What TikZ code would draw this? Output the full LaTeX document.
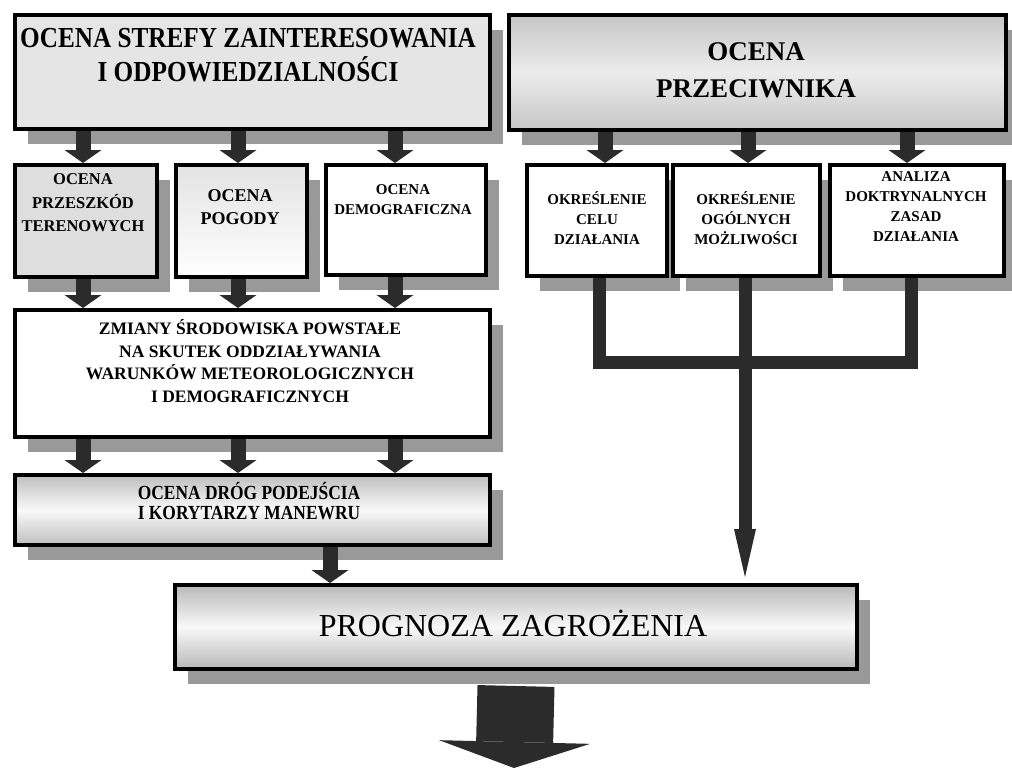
\documentclass[tikz,border=0pt]{standalone}
\usepackage{fontspec}
\setmainfont{Liberation Serif}
\newfontfamily\cnd[FakeStretch=0.87]{Liberation Serif}
\usetikzlibrary{arrows.meta,shadows,calc}
\definecolor{shd}{gray}{0.60}
\definecolor{arr}{gray}{0.17}
\definecolor{lgA}{gray}{0.90}
\definecolor{lg1}{gray}{0.87}
\definecolor{lg2}{gray}{0.89}
\begin{document}
\begin{tikzpicture}[x=1pt,y=-1pt,
  box/.style={draw=black, line width=4pt, anchor=north west, inner sep=0pt,
    drop shadow={shadow xshift=13pt, shadow yshift=-15pt, fill=shd, opacity=1}},
  txt/.style={align=center, inner sep=0pt},
  conn/.style={draw=arr, line width=15pt, -{Triangle[width=37pt,length=13pt,line width=0pt]}},
  bar/.style={draw=arr, line width=13pt, line join=miter},
]
\useasboundingbox[fill=white] (0,0) rectangle (1012,768);

% ---- boxes
\node[box, fill=lgA, minimum width=475pt, minimum height=114pt] (A) at (13,13) {};
\node[box, top color=gray!45, bottom color=gray!45, middle color=gray!15, minimum width=497pt, minimum height=115pt] (B) at (507,13) {};
\node[box, fill=lg1, minimum width=142pt, minimum height=112pt] (b1) at (13,163) {};
\node[box, top color=lg2, bottom color=white, minimum width=131pt, minimum height=112pt] (b2) at (174,163) {};
\node[box, fill=white, minimum width=160pt, minimum height=110pt] (b3) at (324,163) {};
\node[box, fill=white, minimum width=140pt, minimum height=111pt] (b4) at (525,163) {};
\node[box, fill=white, minimum width=147pt, minimum height=111pt] (b5) at (671,163) {};
\node[box, fill=white, minimum width=174pt, minimum height=111pt] (b6) at (828,163) {};
\node[box, fill=white, minimum width=475pt, minimum height=127pt] (C) at (13,308) {};
\node[box, top color=gray!50, bottom color=gray!50, middle color=gray!5, minimum width=475pt, minimum height=70pt] (D) at (13,473) {};
\node[box, top color=gray!55, bottom color=gray!55, middle color=gray!5, minimum width=682pt, minimum height=84pt] (E) at (173,583) {};

% ---- texts
\node[txt, font=\cnd\bfseries\fontsize{29}{34}\selectfont] (tA) at (248,55)
  {OCENA STREFY ZAINTERESOWANIA\\I ODPOWIEDZIALNOŚCI};
\node[txt, font=\bfseries\fontsize{27}{37}\selectfont] (tB) at (756,70)
  {OCENA\\PRZECIWNIKA};
\node[txt, font=\bfseries\fontsize{16.5}{23.5}\selectfont] (t1) at (83,203)
  {OCENA\\PRZESZKÓD\\TERENOWYCH};
\node[txt, font=\bfseries\fontsize{18}{23}\selectfont] (t2) at (240,207)
  {OCENA\\POGODY};
\node[txt, font=\bfseries\fontsize{15}{20}\selectfont] (t3) at (403,200)
  {OCENA\\DEMOGRAFICZNA};
\node[txt, font=\bfseries\fontsize{15}{20}\selectfont] (t4) at (597,218)
  {OKREŚLENIE\\CELU\\DZIAŁANIA};
\node[txt, font=\bfseries\fontsize{15}{20}\selectfont] (t5) at (746,218)
  {OKREŚLENIE\\OGÓLNYCH\\MOŻLIWOŚCI};
\node[txt, font=\bfseries\fontsize{15}{20}\selectfont] (t6) at (916,207)
  {ANALIZA\\DOKTRYNALNYCH\\ZASAD\\DZIAŁANIA};
\node[txt, font=\bfseries\fontsize{17.5}{22.7}\selectfont] (tC) at (250,361)
  {ZMIANY ŚRODOWISKA POWSTAŁE\\NA SKUTEK ODDZIAŁYWANIA\\WARUNKÓW METEOROLOGICZNYCH\\I DEMOGRAFICZNYCH};
\node[txt, font=\cnd\bfseries\fontsize{20}{20}\selectfont] (tD) at (249,501)
  {OCENA DRÓG PODEJŚCIA\\I KORYTARZY MANEWRU};
\node[txt, font=\fontsize{32}{36}\selectfont] (tE) at (513,623)
  {PROGNOZA ZAGROŻENIA};

% ---- connector columns
\coordinate (xl1) at (83,0);
\coordinate (xl2) at (238,0);
\coordinate (xl3) at (395,0);
\coordinate (xd) at (330,0);
\coordinate (xr1) at (605,0);
\coordinate (xr2) at (748,0);
\coordinate (xr3) at (907,0);
\coordinate (cl1) at (599,0);
\coordinate (cl2) at (745,0);
\coordinate (cl3) at (911,0);
\coordinate (barm) at (745,362);
\coordinate (bot) at (514,768);

% ---- left arrows
\draw[conn] (A.south -| xl1) -- (b1.north -| xl1);
\draw[conn] (A.south -| xl2) -- (b2.north -| xl2);
\draw[conn] (A.south -| xl3) -- (b3.north -| xl3);
\draw[conn] (b1.south -| xl1) -- (C.north -| xl1);
\draw[conn] (b2.south -| xl2) -- (C.north -| xl2);
\draw[conn] (b3.south -| xl3) -- (C.north -| xl3);
\draw[conn] (C.south -| xl1) -- (D.north -| xl1);
\draw[conn] (C.south -| xl2) -- (D.north -| xl2);
\draw[conn] (C.south -| xl3) -- (D.north -| xl3);
\draw[conn] (D.south -| xd) -- (E.north -| xd);

% ---- right arrows
\draw[conn] (B.south -| xr1) -- (b4.north -| xr1);
\draw[conn] (B.south -| xr2) -- (b5.north -| xr2);
\draw[conn] (B.south -| xr3) -- (b6.north -| xr3);
\draw[bar] (b4.south -| cl1) |- (barm) -| (b6.south -| cl3);
\draw[bar, -{Triangle[width=22pt,length=48pt,line width=0pt]}, shorten >=6pt] (b5.south -| cl2) -- (E.north -| cl2);

% ---- final arrow
\draw[draw=arr, line width=77pt, -{Triangle[width=151pt,length=26pt,line width=0pt]}] ($(E.south)+(0,15)$) -- (bot);
\end{tikzpicture}
\end{document}
